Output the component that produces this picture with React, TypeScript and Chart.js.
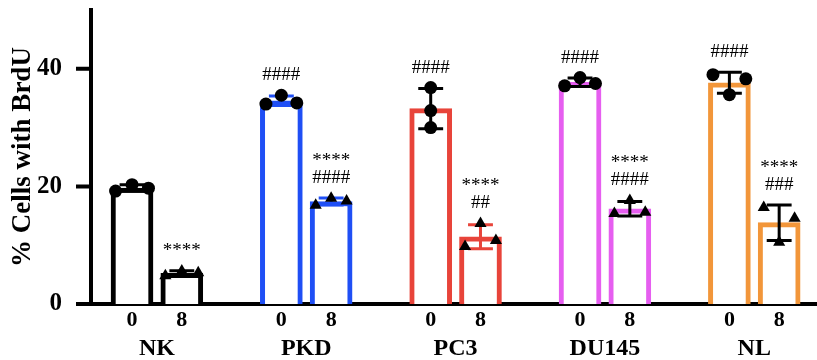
import React, { useEffect, useRef } from 'react';
import { Chart, registerables } from 'chart.js';

Chart.register(...registerables);

const SERIF = "'Liberation Serif', 'Times New Roman', serif";

const groups = ['NK', 'PKD', 'PC3', 'DU145', 'NL'];
const doses = ['0', '8'];
const yTicks = [0, 20, 40];
const barColors = ['#000000', '#1f4ff5', '#e8443a', '#e65ef0', '#f2963a'];

// replicate measurements, bar order: NK-0, NK-8, PKD-0, PKD-8, ...
const replicates = [
  [19.2, 20.3, 19.7],
  [4.8, 5.6, 5.3],
  [34.0, 35.5, 34.2],
  [16.8, 18.0, 17.5],
  [36.8, 32.9, 30.0],
  [9.8, 13.7, 10.8],
  [37.1, 38.5, 37.5],
  [15.4, 17.6, 15.6],
  [39.0, 35.6, 38.3],
  [16.4, 10.5, 14.6],
];
// horizontal scatter of the replicates within a bar (in slot units)
const jitter = [
  [-0.33, 0, 0.33],
  [-0.33, 0, 0.33],
  [-0.31, 0, 0.31],
  [-0.31, 0, 0.31],
  [0, 0, 0],
  [-0.31, 0, 0.31],
  [-0.31, 0, 0.31],
  [-0.31, 0, 0.31],
  [-0.33, 0, 0.33],
  [-0.31, 0, 0.31],
];
const errorColors = ['#000000', '#000000', '#1f4ff5', '#1f4ff5', '#000000', '#e8443a', '#000000', '#000000', '#000000', '#000000'];
const annotations = [
  [],
  ['****'],
  ['####'],
  ['****', '####'],
  ['####'],
  ['****', '##'],
  ['####'],
  ['****', '####'],
  ['####'],
  ['****', '###'],
];

const barX = replicates.map((_, b) => Math.floor(b / 2) * 3 + (b % 2));
const groupX = groups.map((_, g) => g * 3 + 0.5);
const mean = (a: number[]) => a.reduce((s, v) => s + v, 0) / a.length;
const sd = (a: number[]) => {
  const m = mean(a);
  return Math.sqrt(a.reduce((s, v) => s + (v - m) * (v - m), 0) / (a.length - 1));
};
const means = replicates.map(mean);
const sds = replicates.map(sd);

const X_MIN = -0.824;
const X_MAX = 13.76;

const overlayPlugin = {
  id: 'overlay',
  afterDatasetDraw(chart: any, args: any) {
    if (args.index !== 0) return;
    const ctx = chart.ctx;
    const xs = chart.scales.x;
    const ys = chart.scales.y;
    ctx.save();
    replicates.forEach((_, b) => {
      const cx = xs.getPixelForValue(barX[b]);
      const half = xs.getPixelForValue(barX[b] + 0.25) - cx;
      const top = ys.getPixelForValue(means[b] + sds[b]);
      const bot = ys.getPixelForValue(means[b] - sds[b]);
      ctx.strokeStyle = errorColors[b];
      ctx.lineWidth = 3;
      ctx.beginPath();
      ctx.moveTo(cx, top);
      ctx.lineTo(cx, bot);
      ctx.moveTo(cx - half, top);
      ctx.lineTo(cx + half, top);
      ctx.moveTo(cx - half, bot);
      ctx.lineTo(cx + half, bot);
      ctx.stroke();
    });
    ctx.restore();
  },
  afterDatasetsDraw(chart: any) {
    const ctx = chart.ctx;
    const xs = chart.scales.x;
    const ys = chart.scales.y;
    ctx.save();
    // y-axis tick marks
    ctx.strokeStyle = '#000';
    ctx.lineWidth = 4;
    ctx.beginPath();
    yTicks.forEach((v) => {
      const py = ys.getPixelForValue(v);
      ctx.moveTo(ys.right - 15, py);
      ctx.lineTo(ys.right, py);
    });
    ctx.stroke();
    // significance annotations
    ctx.fillStyle = '#000';
    ctx.font = `19px ${SERIF}`;
    ctx.textAlign = 'center';
    ctx.textBaseline = 'middle';
    annotations.forEach((lines, b) => {
      if (!lines.length) return;
      const cx = xs.getPixelForValue(barX[b]);
      const topVal = Math.max(means[b] + sds[b], ...replicates[b]);
      const anchor = ys.getPixelForValue(topVal) - 6;
      lines.forEach((t, i) => {
        const y = anchor - 14 - (lines.length - 1 - i) * 17;
        ctx.fillText(t, cx, y);
      });
    });
    ctx.restore();
  },
};

export default function App() {
  const ref = useRef<HTMLCanvasElement | null>(null);
  useEffect(() => {
    if (!ref.current) return;
    const scatterData: any[] = [];
    const styles: string[] = [];
    const radii: number[] = [];
    replicates.forEach((vals, b) => {
      vals.forEach((v, i) => {
        scatterData.push({ x: barX[b] + jitter[b][i], y: v });
        styles.push(b % 2 === 0 ? 'circle' : 'triangle');
        radii.push(b % 2 === 0 ? 6.5 : 7);
      });
    });
    const chart = new Chart(ref.current, {
      type: 'bar',
      data: {
        datasets: [
          {
            type: 'bar',
            data: barX.map((x, b) => ({ x, y: means[b] })),
            backgroundColor: '#ffffff',
            borderColor: barX.map((_, b) => barColors[Math.floor(b / 2)]),
            borderWidth: 5,
            borderSkipped: 'bottom',
            barThickness: 42,
            order: 2,
          } as any,
          {
            type: 'scatter',
            data: scatterData,
            pointStyle: styles as any,
            pointRadius: radii,
            backgroundColor: '#000000',
            borderColor: '#000000',
            borderWidth: 0,
            clip: false,
            order: 1,
          } as any,
        ],
      },
      options: {
        responsive: false,
        animation: false,
        layout: { autoPadding: false, padding: { top: 10, left: 0, right: 0, bottom: 0 } },
        plugins: { legend: { display: false }, tooltip: { enabled: false } },
        scales: {
          x: {
            type: 'linear',
            position: 'bottom',
            offset: false,
            weight: 1,
            min: X_MIN,
            max: X_MAX,
            grid: { display: false, drawTicks: false, offset: false },
            border: { display: true, color: '#000', width: 4 },
            afterBuildTicks: (s: any) => {
              s.ticks = barX.map((v) => ({ value: v }));
            },
            afterFit: (s: any) => {
              s.height = 30;
              s.paddingLeft = 0;
              s.paddingRight = 0;
              s.paddingTop = 0;
              s.paddingBottom = 0;
            },
            ticks: {
              autoSkip: false,
              maxRotation: 0,
              minRotation: 0,
              padding: 3,
              color: '#000',
              font: { family: SERIF, size: 22, weight: 'bold' },
              callback: (_v: any, i: number) => doses[i % 2],
            },
          },
          x2: {
            type: 'linear',
            position: 'bottom',
            offset: false,
            weight: 2,
            min: X_MIN,
            max: X_MAX,
            grid: { display: false, drawTicks: false, offset: false },
            border: { display: false },
            afterBuildTicks: (s: any) => {
              s.ticks = groupX.map((v) => ({ value: v }));
            },
            afterFit: (s: any) => {
              s.height = 26;
              s.paddingLeft = 0;
              s.paddingRight = 0;
              s.paddingTop = 0;
              s.paddingBottom = 0;
            },
            ticks: {
              autoSkip: false,
              maxRotation: 0,
              minRotation: 0,
              padding: 0,
              color: '#000',
              font: { family: SERIF, size: 24, weight: 'bold' },
              callback: (_v: any, i: number) => groups[i],
            },
          },
          y: {
            type: 'linear',
            min: 0,
            max: 50,
            afterBuildTicks: (s: any) => {
              s.ticks = yTicks.map((v) => ({ value: v }));
            },
            afterFit: (s: any) => {
              s.width = 91;
              s.paddingLeft = 0;
              s.paddingRight = 0;
              s.paddingTop = 0;
              s.paddingBottom = 0;
            },
            grid: { display: false },
            border: { display: true, color: '#000', width: 4 },
            ticks: {
              padding: 21,
              color: '#000',
              font: { family: SERIF, size: 25, weight: 'bold' },
            },
            title: {
              display: true,
              text: '% Cells with BrdU',
              color: '#000',
              padding: { top: 7, bottom: 0 },
              font: { family: SERIF, size: 27, weight: 'bold' },
            },
          },
        },
      },
      plugins: [overlayPlugin],
    });
    return () => chart.destroy();
  }, []);
  return (
    <div style={{ position: 'fixed', left: 0, top: 0, width: 817, height: 360, background: '#fff' }}>
      <canvas ref={ref} width={817} height={360} style={{ display: 'block' }} />
    </div>
  );
}
